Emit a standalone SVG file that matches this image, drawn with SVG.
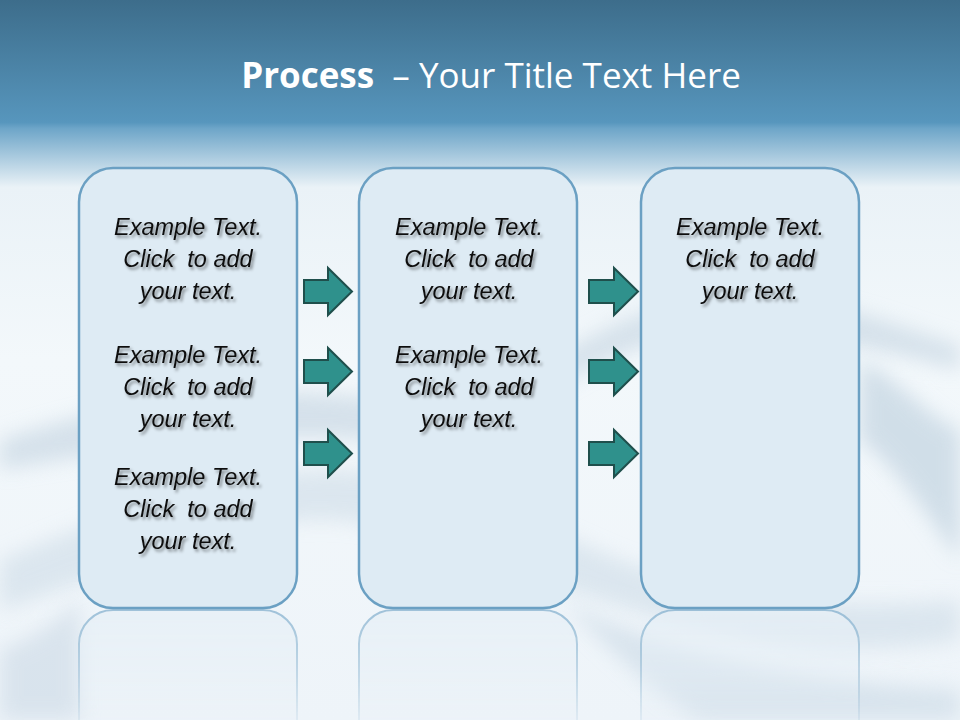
<svg xmlns="http://www.w3.org/2000/svg" width="960" height="720" viewBox="0 0 960 720">
<defs>
<linearGradient id="bg" x1="0" y1="0" x2="0" y2="1">
<stop offset="0" stop-color="#3d6d8b"/>
<stop offset="0.17" stop-color="#5796bd"/>
<stop offset="0.178" stop-color="#6da5c8"/>
<stop offset="0.26" stop-color="#eaf2f7"/>
<stop offset="0.5" stop-color="#f3f8fb"/>
<stop offset="1" stop-color="#eef4f9"/>
</linearGradient>
<linearGradient id="refl" x1="0" y1="0" x2="0" y2="1">
<stop offset="0" stop-color="#fff" stop-opacity="0.8"/>
<stop offset="0.6" stop-color="#fff" stop-opacity="0.45"/>
<stop offset="1" stop-color="#fff" stop-opacity="0.15"/>
</linearGradient>
<mask id="fade"><rect x="0" y="608" width="960" height="112" fill="url(#refl)"/></mask>
<filter id="blur" filterUnits="userSpaceOnUse" x="-100" y="200" width="1160" height="620"><feGaussianBlur stdDeviation="10"/></filter>
<filter id="sh" x="-10%" y="-30%" width="130%" height="160%"><feDropShadow dx="2" dy="2.5" stdDeviation="1.6" flood-color="#000" flood-opacity="0.45"/></filter>
</defs>
<style>
.box{fill:#deebf4;stroke:#6ba0c3;stroke-width:2.5}
.rbox{fill:#e6eff6;stroke:#8ab4d0;stroke-width:2}
.arr{fill:#2f918c;stroke:#1f4f4c;stroke-width:2;stroke-linejoin:miter}
.t{font-family:"Liberation Sans",Arial,sans-serif;font-style:italic;font-size:23.5px;fill:#111;text-anchor:middle;white-space:pre}
.title{font-family:"Open Sans","Liberation Sans",sans-serif;font-size:35px;fill:#fff;text-anchor:middle;white-space:pre}
</style>
<rect width="960" height="720" fill="url(#bg)"/>
<g id="swoosh" opacity="0.7">
<path d="M0 440 C120 400 260 380 380 400 C520 420 560 320 700 300 C820 285 900 330 960 345 L960 370 C880 350 800 330 700 335 C560 350 520 450 380 440 C250 430 120 450 0 470 Z" fill="#c9d8e4" filter="url(#blur)"/>
<path d="M0 560 C100 520 220 470 330 470 C450 470 520 520 620 560 C720 600 840 610 960 600 L960 640 C840 660 720 640 600 600 C500 570 420 520 320 520 C220 520 100 580 0 610 Z" fill="#d3e0ea" filter="url(#blur)"/>
<path d="M560 600 C640 640 760 680 960 690 L960 720 L700 720 C650 690 600 640 560 600 Z" fill="#cfdde8" filter="url(#blur)"/>
<path d="M860 360 C900 380 930 420 960 430 L960 560 C930 520 900 470 860 440 Z" fill="#c3d4e1" filter="url(#blur)"/>
<path d="M0 650 C30 640 60 620 80 600 L80 720 L0 720 Z" fill="#d0dde8" filter="url(#blur)"/>
</g>
<g id="title">
<text class="title" x="491" y="88"><tspan font-weight="bold">Process</tspan><tspan>  – Your Title Text Here</tspan></text>
</g>
<g id="reflections" mask="url(#fade)">
<rect class="rbox" x="79" y="610" width="218" height="440" rx="34"/>
<rect class="rbox" x="359" y="610" width="218" height="440" rx="34"/>
<rect class="rbox" x="641" y="610" width="218" height="440" rx="34"/>
</g>
<g id="box1">
<rect class="box" x="79" y="168" width="218" height="440" rx="34"/>
<g filter="url(#sh)">
<text class="t" x="188" y="235">Example Text.</text>
<text class="t" x="188" y="267">Click  to add</text>
<text class="t" x="188" y="299">your text.</text>
<text class="t" x="188" y="363">Example Text.</text>
<text class="t" x="188" y="395">Click  to add</text>
<text class="t" x="188" y="427">your text.</text>
<text class="t" x="188" y="485">Example Text.</text>
<text class="t" x="188" y="517">Click  to add</text>
<text class="t" x="188" y="549">your text.</text>
</g>
</g>
<g id="box2">
<rect class="box" x="359" y="168" width="218" height="440" rx="34"/>
<g filter="url(#sh)">
<text class="t" x="469" y="235">Example Text.</text>
<text class="t" x="469" y="267">Click  to add</text>
<text class="t" x="469" y="299">your text.</text>
<text class="t" x="469" y="363">Example Text.</text>
<text class="t" x="469" y="395">Click  to add</text>
<text class="t" x="469" y="427">your text.</text>
</g>
</g>
<g id="box3">
<rect class="box" x="641" y="168" width="218" height="440" rx="34"/>
<g filter="url(#sh)">
<text class="t" x="750" y="235">Example Text.</text>
<text class="t" x="750" y="267">Click  to add</text>
<text class="t" x="750" y="299">your text.</text>
</g>
</g>
<g id="connectors">
<path class="arr" d="M304 280 H328 V268 L352 291.5 L328 315 V303 H304 Z"/>
<path class="arr" d="M304 360 H328 V348 L352 371.5 L328 395 V383 H304 Z"/>
<path class="arr" d="M304 442 H328 V430 L352 453.5 L328 477 V465 H304 Z"/>
<path class="arr" d="M589 280 H614 V268 L638 291.5 L614 315 V303 H589 Z"/>
<path class="arr" d="M589 360 H614 V348 L638 371.5 L614 395 V383 H589 Z"/>
<path class="arr" d="M589 442 H614 V430 L638 453.5 L614 477 V465 H589 Z"/>
</g>
</svg>
